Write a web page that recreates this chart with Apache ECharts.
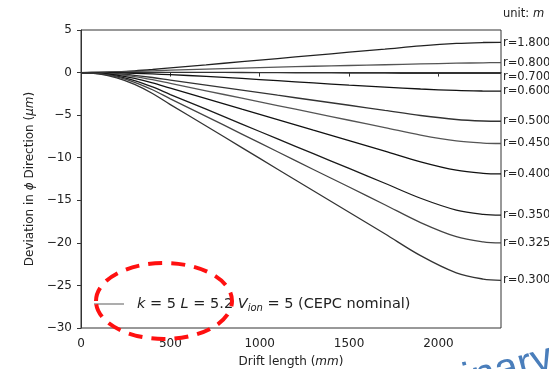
<!DOCTYPE html>
<html><head><meta charset="utf-8">
<script src="https://cdn.jsdelivr.net/npm/echarts@6/dist/echarts.min.js"></script>
<style>html,body{margin:0;padding:0;background:#fff}#c{width:549px;height:369px}</style>
</head><body><div id="c"></div>
<script>
// drift length sample points (mm)
const driftX = [0,100,200,300,400,500,700,900,1100,1300,1500,1700,1900,2100,2250,2350];
// deviation (um) per radius
const r1800 = [0,0.02,0.09,0.20,0.36,0.55,0.91,1.28,1.65,2.02,2.39,2.75,3.13,3.42,3.53,3.55];
const r0800 = [0,0.03,0.08,0.14,0.21,0.28,0.41,0.53,0.64,0.74,0.83,0.92,1.02,1.10,1.15,1.17];
const r0700 = [0,0.01,0.02,0.03,0.03,0.03,0.02,0.01,-0.01,-0.03,-0.05,-0.07,-0.09,-0.10,-0.10,-0.10];
const r0600 = [0,-0.01,-0.04,-0.09,-0.16,-0.25,-0.45,-0.69,-0.95,-1.22,-1.47,-1.70,-1.93,-2.10,-2.17,-2.19];
const r0500 = [0,-0.04,-0.14,-0.33,-0.58,-0.88,-1.47,-2.06,-2.66,-3.25,-3.84,-4.44,-5.04,-5.51,-5.69,-5.72];
const r0450 = [0,-0.05,-0.21,-0.47,-0.84,-1.28,-2.14,-3.01,-3.87,-4.74,-5.60,-6.46,-7.34,-8.03,-8.28,-8.33];
const r0400 = [0,-0.08,-0.30,-0.68,-1.20,-1.83,-3.06,-4.30,-5.53,-6.77,-8.00,-9.23,-10.48,-11.47,-11.83,-11.90];
const r0350 = [0,-0.11,-0.42,-0.95,-1.69,-2.58,-4.30,-6.05,-7.79,-9.53,-11.26,-13.00,-14.76,-16.15,-16.65,-16.75];
const r0325 = [0,-0.13,-0.51,-1.14,-2.02,-3.08,-5.14,-7.22,-9.30,-11.38,-13.44,-15.52,-17.62,-19.28,-19.88,-20.00];
const r0300 = [0,-0.16,-0.62,-1.39,-2.46,-3.76,-6.27,-8.81,-11.35,-13.88,-16.40,-18.93,-21.50,-23.52,-24.25,-24.40];
const curveNames = ['r=1.800','r=0.800','r=0.700','r=0.600','r=0.500','r=0.450','r=0.400','r=0.350','r=0.325','r=0.300'];
const curveData = [r1800,r0800,r0700,r0600,r0500,r0450,r0400,r0350,r0325,r0300];
const xTicks = [0,500,1000,1500,2000];
const yTicks = [-30,-25,-20,-15,-10,-5,0,5];

const colors = ['#222','#555','#333','#111','#333','#555','#111','#1a1a1a','#444','#333'];
const labelOffsets = [[0,1],[0,0],[0,4],[0,0],[0,0],[0,0],[0,0],[0,0],[0,0],[0,0]];
const FONT = 'DejaVu Sans';

const series = curveData.map((vals, k) => ({
  type: 'line',
  name: curveNames[k],
  data: driftX.map((x, i) => [x, vals[i]]),
  smooth: 0.35,
  showSymbol: false,
  silent: true,
  animation: false,
  lineStyle: { color: colors[k], width: 1.3 },
  endLabel: {
    show: true, formatter: curveNames[k], color: '#222',
    fontFamily: FONT, fontSize: 11.5, distance: 2, offset: labelOffsets[k]
  }
}));

const chart = echarts.init(document.getElementById('c'));
chart.setOption({
  animation: false,
  backgroundColor: '#fff',
  grid: { left: 81, right: 48, top: 30, bottom: 41, outerBoundsMode: 'none', containLabel: false,
    show: true, borderColor: '#333', borderWidth: 1, backgroundColor: 'transparent' },
  xAxis: {
    type: 'value', min: 0, max: 2350, interval: 500,
    name: '{n|Drift length (}{i|mm}{n|)}', nameLocation: 'middle', nameGap: 28,
    nameTextStyle: { rich: {
      n: { fontFamily: FONT, fontSize: 12, color: '#222' },
      i: { fontFamily: FONT, fontSize: 12, color: '#222', fontStyle: 'italic' } } },
    axisLine: { show: true, lineStyle: { color: '#333', width: 1 } },
    axisTick: { show: true, inside: false, length: 4, lineStyle: { color: '#333' } },
    axisLabel: { margin: 10, color: '#222', fontFamily: FONT, fontSize: 12, showMaxLabel: false,
      formatter: v => xTicks.includes(v) ? String(v) : '' },
    splitLine: { show: false }
  },
  yAxis: {
    type: 'value', min: -30, max: 5, interval: 5,
    name: '{n|Deviation in }{i|ϕ}{n| Direction (}{i|μm}{n|)}', nameLocation: 'middle', nameGap: 40, nameRotate: 90,
    nameTextStyle: { rich: {
      n: { fontFamily: FONT, fontSize: 12, color: '#222' },
      i: { fontFamily: FONT, fontSize: 12, color: '#222', fontStyle: 'italic' } } },
    axisLine: { show: true, lineStyle: { color: '#333', width: 1 } },
    axisTick: { show: true, inside: false, length: 4, lineStyle: { color: '#333' } },
    axisLabel: { margin: 9, color: '#222', fontFamily: FONT, fontSize: 12,
      formatter: v => yTicks.includes(v) ? (v < 0 ? '\u2212' + (-v) : String(v)) : '' },
    splitLine: { show: false }
  },
  series: series,
  graphic: [
    { type: 'line', z: 100, shape: { x1: 94, y1: 304, x2: 124, y2: 304 }, style: { stroke: '#777', lineWidth: 1.2 } },
    { type: 'text', z: 100, x: 137, y: 304,
      style: { text: '{i|k} = 5 {i|L} = 5.2 {i|V}{s|ion} = 5 (CEPC nominal)', textVerticalAlign: 'middle',
        rich: {
          i: { fontFamily: FONT, fontSize: 14.5, fontStyle: 'italic', fill: '#222' },
          s: { fontFamily: FONT, fontSize: 10, fontStyle: 'italic', fill: '#222', padding: [8, 0, 0, 0] }
        },
        font: '14.5px "DejaVu Sans"', fill: '#222' } },
    { type: 'ellipse', z: 110, shape: { cx: 164, cy: 301, rx: 68, ry: 38 },
      style: { fill: 'none', stroke: '#ff1010', lineWidth: 4, lineDash: [14, 9] } },
    { type: 'text', z: 100, x: 503, y: 14,
      style: { text: 'unit: ', font: '11.5px "DejaVu Sans"', fill: '#222', textVerticalAlign: 'middle' } },
    { type: 'text', z: 100, x: 533, y: 14,
      style: { text: 'm', font: 'italic 11.5px "DejaVu Sans"', fill: '#222', textVerticalAlign: 'middle' } },
    { type: 'text', z: 120, x: 552, y: 358, rotation: 0.26,
      style: { text: 'Preliminary', font: '42px "Liberation Sans"', fill: '#4a7ebb', textAlign: 'right', textVerticalAlign: 'middle' } }
  ]
});
</script>
</body></html>
